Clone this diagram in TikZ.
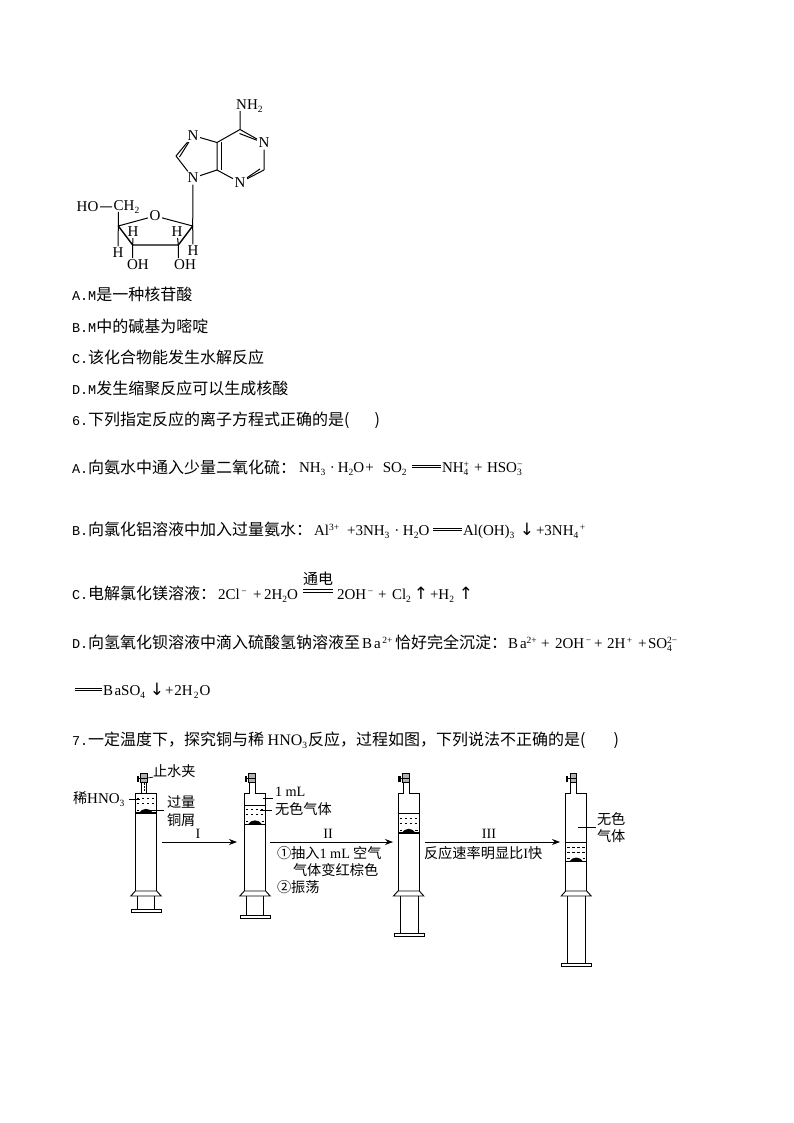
\documentclass[tikz,border=0pt]{standalone}
\usepackage{fontspec}
\setmainfont{Liberation Serif}
\newfontfamily\cjk{Noto Sans CJK SC}
\newfontfamily\lat{Liberation Mono}
\newfontfamily\arrowf{DejaVu Sans}
\newcommand\chdn[1]{\raisebox{-3pt}{\fontsize{9.5}{9.5}\selectfont #1}}
\newcommand\chup[1]{\raisebox{5pt}{\fontsize{9.5}{9.5}\selectfont #1}}
\newcommand\chud[2]{\rlap{\chup{#1}}\chdn{#2}}
\newcommand\body{\fontsize{16}{16}\selectfont}
\newcommand\fig{\fontsize{14.2}{14.2}\selectfont}
\newcommand\eqn{\fontsize{15}{15}\selectfont}
\newcommand\latf[1]{{\fontsize{13.5}{13.5}\selectfont\lat #1}}
\usetikzlibrary{arrows.meta}
\tikzset{
 inner sep=0pt,outer sep=0pt,
 bt/.style={anchor=base west,font=\body\cjk},
 be/.style={anchor=base west,font=\eqn},
 ft/.style={anchor=base west,font=\fig\cjk},
 fc/.style={anchor=base,font=\fig},
 gas/.style={anchor=base,font=\fontsize{17}{17}\selectfont\arrowf},
 atm/.style={font=\fontsize{15}{15}\selectfont,inner sep=1.2pt,outer sep=0.5pt},
 bond/.style={line width=1pt},
 fbond/.style={line width=1.4pt,line cap=round},
 syr/.style={line width=0.9pt},
 lead/.style={line width=0.7pt},
 arr/.style={line width=0.8pt,-{Stealth[length=8pt,width=6pt]}},
 eqs/.style={line width=0.8pt},
}
\newcommand\eqsign[2]{\draw[eqs] ([yshift=1.2pt]#1) -- ([yshift=1.2pt]#2) ([yshift=-1.2pt]#1) -- ([yshift=-1.2pt]#2);}
\newcommand\syringe[9]{%
 \def\sL{#1}\def\sR{#2}\def\NL{#3}\def\NR{#4}\def\LT{#5}\def\PI{#6}\def\RL{#7}\def\RR{#8}\def\RB{#9}\syrB}
\newcommand\syrB{%
 \draw[syr] (\sL,891) -- (\sL,793) -- (\NL,793) -- (\NL,782) (\NR,782) -- (\NR,793) -- (\sR,793) -- (\sR,891);
 \draw[line width=0.8pt,fill=gray!60] (\NL-0.8,773.5) rectangle (\NR+0.8,782.5);
 \draw[line width=0.9pt] (\NL-4,778.5) -- (\NR+1,778.5);
 \fill (\NL-5,775.5) rectangle (\NL-2.8,781.5);
 \draw[syr] (\sL,\LT) -- (\sR,\LT);
 \draw[line width=1.4pt] (\sL,\PI) -- (\sR,\PI);
 \foreach \dd in {0.3,0.55}{\draw[line width=0.8pt,dash pattern=on 2.5pt off 2.5pt] (\sL+1.5,{\LT+\dd*(\PI-\LT)-1}) -- (\sR-1,{\LT+\dd*(\PI-\LT)-1});}
 \draw[line width=0.8pt,dash pattern=on 2.5pt off 2.5pt] (\sL+1.5,\PI-3) -- (\sL+4,\PI-3) (\sR-4,\PI-3) -- (\sR-1,\PI-3);
 \fill ({(\sL+\sR)/2-7},\PI) .. controls ({(\sL+\sR)/2-4},\PI-5.5) and ({(\sL+\sR)/2+4},\PI-5.5) .. ({(\sL+\sR)/2+7},\PI) -- cycle;
 \draw[syr] (\sL-4.5,896) -- (\sL,891) -- (\sR,891) -- (\sR+4.5,896) -- cycle;
 \draw[syr] (\RL,896) -- (\RL,\RB) (\RR,896) -- (\RR,\RB);
 \draw[syr] ({(\RL+\RR)/2-15},\RB) rectangle ({(\RL+\RR)/2+15},\RB+3);
}
\begin{document}
\begin{tikzpicture}[x=1pt,y=-1pt]
\useasboundingbox (0,0) rectangle (794,1123);
\fill[white] (0,0) rectangle (794,1123);
% ---- molecule
\node[atm,anchor=west] (nh2) at (234.5,106) {NH\chdn{2}};
\coordinate (nh2b) at (240,111);
\coordinate (c6) at (240,129.5);
\node[atm] (n1) at (264,143) {N};
\coordinate (c2) at (264,170);
\node[atm] (n3) at (240,182.5) {N};
\coordinate (c4) at (217,170);
\coordinate (c5) at (217,142.5);
\node[atm] (n7) at (193,135.5) {N};
\coordinate (c8) at (176,156);
\node[atm] (n9) at (193,178) {N};
\draw[bond] (nh2b) -- (c6) (c6) -- (n1) (n1) -- (c2) (c2) -- (n3) (n3) -- (c4) (c4) -- (c5) (c5) -- (c6) (c5) -- (n7) (n7) -- (c8) (c8) -- (n9) (n9) -- (c4);
\draw[bond] ([shift={(-0.5,4)}]c6) -- ([shift={(-4,-2)}]n1);
\draw[bond] ([shift={(-4,-1)}]c2) -- ([shift={(4,-2)}]n3);
\draw[bond] ([shift={(4,0)}]c5) -- ([shift={(4,0)}]c4);
\draw[bond] ([shift={(3.5,1)}]c8) -- ([shift={(-3,5)}]n7);
\coordinate (c1r) at (192.7,226);
\coordinate (c2r) at (178.3,245);
\coordinate (c3r) at (132.7,245);
\coordinate (c4r) at (118.3,226);
\node[atm] (ox) at (155,216) {O};
\node[atm,anchor=west] (ch2) at (112,207) {CH\chdn{2}};
\node[atm,anchor=west] (ho) at (75,207) {HO};
\node[atm] (h1) at (133,231.5) {H};
\node[atm] (h2) at (118,253) {H};
\node[atm] (h3) at (177,231.5) {H};
\node[atm] (h4) at (193,251) {H};
\node[atm] (oh1) at (138,264.5) {OH};
\node[atm] (oh2) at (185,264.5) {OH};
\coordinate (chb) at (118.3,212);
\coordinate (oh1t) at (132.7,258);
\coordinate (oh2t) at (178.3,258);
\draw[bond] (n9) -- (c1r) (ho) -- (ch2) (chb) -- (c4r) (c4r) -- (ox) (ox) -- (c1r) (c3r) -- (h1) (c4r) -- (h2) (c2r) -- (h3) (c1r) -- (h4) (c3r) -- (oh1t) (c2r) -- (oh2t);
\draw[fbond] (c4r) -- (c3r) -- (c2r) -- (c1r);
% ---- text lines
\node[bt] (la) at (72,300) {\latf{A.M}是一种核苷酸};
\node[bt] (lb) at (72,332) {\latf{B.M}中的碱基为嘧啶};
\node[bt] (lc) at (72,363) {\latf{C.}该化合物能发生水解反应};
\node[bt] (ld) at (72,394) {\latf{D.M}发生缩聚反应可以生成核酸};
\node[bt] (q6) at (72,425) {\latf{6.}下列指定反应的离子方程式正确的是(\hspace{25pt})};
\node[bt] (a1) at (72,473) {\latf{A.}向氨水中通入少量二氧化硫：};
\node[be] (a2) at (299,472) {NH\chdn{3}\hspace{4.5pt}·\hspace{3pt}H\chdn{2}O\hspace{1pt}+\hspace{9pt}SO\chdn{2}};
\coordinate (a3) at (412,466.5); \coordinate (a4) at (441,466.5);
\eqsign{a3}{a4}
\node[be] (a5) at (442,472) {NH\chud{+}{4}};
\node[be] (a6) at (474,472) {+};
\node[be] (a7) at (487,472) {HSO\chud{\textminus}{3}};
\node[bt] (b1) at (72,535) {\latf{B.}向氯化铝溶液中加入过量氨水：};
\node[be] (b2) at (314,535) {Al\chup{3+}\hspace{8pt}+3NH\chdn{3}\hspace{5pt}·\hspace{3.5pt}H\chdn{2}O};
\coordinate (b3) at (433,529.5); \coordinate (b4) at (462,529.5);
\eqsign{b3}{b4}
\node[be] (b5) at (463,535) {Al(OH)\chdn{3}};
\node[gas] (b6) at (527,535) {↓};
\node[be] (b7) at (536,535) {+3NH\chdn{4}\chup{\,+}};
\node[bt] (c1) at (72,599) {\latf{C.}电解氯化镁溶液：};
\node[be] (c2) at (218,599) {2Cl\chup{\,\textminus}};
\node[be] (c2b) at (253,599) {+};
\node[be] (c2c) at (264,599) {2H\chdn{2}O};
\coordinate (c3) at (303,591); \coordinate (c4x) at (333,591);
\eqsign{c3}{c4x}
\node[ft,anchor=base] (c5x) at (318,584) {\fontsize{15}{15}\selectfont 通电};
\node[be] (c6x) at (337,599) {2OH\chup{\,\textminus}};
\node[be] (c6a) at (378,599) {+};
\node[be] (c6b) at (392,599) {Cl\chdn{2}};
\node[gas] (c6c) at (421,599) {↑};
\node[be] (c6d) at (430,599) {+H\chdn{2}};
\node[gas] (c6e) at (466,599) {↑};
\node[bt] (d1) at (72,648) {\latf{D.}向氢氧化钡溶液中滴入硫酸氢钠溶液至};
\node[be] (d1a) at (362,648) {B\hspace{2pt}a\chup{\,2+}};
\node[bt] (d1b) at (395,648) {恰好完全沉淀：};
\node[be] (d2) at (508,648) {B\hspace{2pt}a\chup{2+}};
\node[be] (d2a) at (541,648) {+};
\node[be] (d2b) at (555,648) {2OH\chup{\,\textminus}};
\node[be] (d2c) at (594,648) {+};
\node[be] (d2d) at (607,648) {2H\chup{\,+}};
\node[be] (d2e) at (638,648) {+};
\node[be] (d2f) at (648,648) {SO\chud{2\textminus}{4}};
\coordinate (d3) at (75,689.5); \coordinate (d4) at (102,689.5);
\eqsign{d3}{d4}
\node[be] (d5) at (103,695) {B\hspace{1.5pt}aSO\chdn{4}};
\node[gas] (d6) at (157,695) {↓};
\node[be] (d7) at (165,695) {+\hspace{1pt}2H\hspace{1pt}\chdn{2}\hspace{1pt}O};
\node[bt] (q7) at (72,745) {\latf{7.}一定温度下，探究铜与稀\hspace{3.5pt}{\fontsize{16}{16}\selectfont\rmfamily HNO\chdn{3}}\hspace{1pt}反应，过程如图，下列说法不正确的是(\hspace{28pt})};
% ---- syringes
\syringe{135.3}{156.7}{141.5}{146.5}{793}{813}{137.5}{154.7}{909}
\syringe{244.3}{265.7}{249.5}{255}{805}{824.5}{246.5}{263.7}{915}
\syringe{398}{419.3}{403.3}{409}{813.3}{833}{400.7}{418.7}{933}
\syringe{565.7}{586.7}{570.7}{576}{842.3}{861.7}{567.7}{585.7}{963}
\draw[line width=0.7pt,dash pattern=on 1.5pt off 1.5pt] (144,783) -- (144,792);
% ---- figure labels
\node[ft] (stop) at (153,776) {止水夹};
\coordinate (stopa) at (147.5,778); \draw[lead] (stopa) -- (stop.south west);
\node[ft] (hno) at (73,803) {稀{\rmfamily\fontsize{15}{15}\selectfont HNO\chdn{3}}};
\coordinate (hnoa) at (140,799); \coordinate (hnob) at (129,799); \draw[lead] (hnob) -- (hnoa);
\node[ft] (gl) at (167,807) {过量};
\node[ft] (ts) at (167,825) {铜屑};
\coordinate (cua) at (147,810); \coordinate (cub) at (164,810); \draw[lead] (cua) -- (cub);
\node[fc,anchor=base west] (ml) at (275,796) {1 mL};
\coordinate (mla) at (263,798.5); \coordinate (mlb) at (273,798.5); \draw[lead] (mla) -- (mlb);
\node[ft] (wu) at (275,814) {无色气体};
\coordinate (wua) at (260,810); \coordinate (wub) at (272,810); \draw[lead] (wua) -- (wub);
\coordinate (i1) at (161.5,842); \coordinate (i2) at (237,842); \draw[arr] (i1) -- (i2);
\node[fc] (ti) at (198,838) {I};
\coordinate (ii1) at (270,842); \coordinate (ii2) at (393,842); \draw[arr] (ii1) -- (ii2);
\node[fc] (tii) at (328,838) {II};
\node[ft] (t1) at (277,858) {①抽入{\rmfamily 1 mL} 空气};
\node[ft] (t2) at (293,875) {气体变红棕色};
\node[ft] (t3) at (277,892) {②振荡};
\coordinate (iii1) at (425,842); \coordinate (iii2) at (560,842); \draw[arr] (iii1) -- (iii2);
\node[fc] (tiii) at (489,838) {III};
\node[ft] (t4) at (424,858) {反应速率明显比{\rmfamily I}快};
\node[ft] (t5) at (597,824) {无色};
\node[ft] (t6) at (597,841) {气体};
\coordinate (g1) at (578,827); \coordinate (g2) at (596,827); \draw[lead] (g1) -- (g2);
\end{tikzpicture}
\end{document}
